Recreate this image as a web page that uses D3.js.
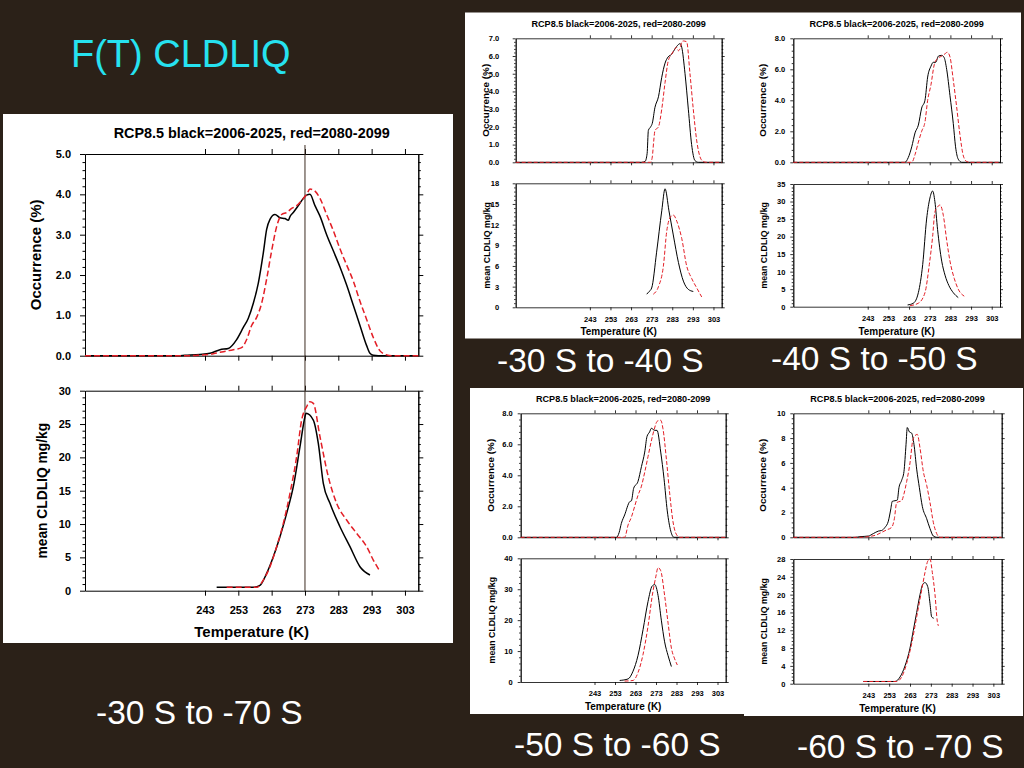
<!DOCTYPE html>
<html>
<head>
<meta charset="utf-8">
<script src="https://cdn.jsdelivr.net/npm/d3@7"></script>
<style>
  html, body { margin: 0; padding: 0; background: #2b2118; }
  svg { display: block; }
  text { font-family: "Liberation Sans", Arial, Helvetica, sans-serif; }
</style>
</head>
<body>
<svg id="slide" width="1024" height="768"></svg>
<script>
// temperature axis (K)
const xDomain = [207, 307];
const xTicks = [243, 253, 263, 273, 283, 293, 303];

// -30 S to -70 S  (big panel)
const occBigBlack = [[207,0],[235,0],[237,0.01],[241.5,0.03],[244.5,0.06],[247.5,0.15],[250,0.18],[252.5,0.4],[254.5,0.7],[256,0.93],[257.5,1.3],[259,1.8],[260.5,2.55],[261.5,3.13],[262.5,3.38],[264,3.5],[265.5,3.42],[267,3.4],[268,3.36],[268.5,3.45],[269.5,3.55],[271,3.72],[272.5,3.9],[273.5,3.98],[274.5,4.0],[276,3.72],[277.5,3.46],[279.5,3.0],[281.5,2.6],[283.5,2.2],[285.5,1.75],[287.5,1.25],[289.5,0.75],[291.5,0.25],[292.5,0.06],[293.5,0.01],[295,0],[307,0]];
const occBigRed = [[207,0],[238,0],[241,0.01],[245.5,0.05],[248.5,0.1],[251.5,0.15],[254,0.2],[255.5,0.4],[257,0.75],[258.5,0.95],[260,1.3],[261.5,1.9],[263,2.6],[264.5,3.2],[266,3.5],[267.5,3.55],[269,3.65],[270.5,3.72],[272,3.85],[273.5,4.0],[274.5,4.13],[276,4.08],[277.5,3.9],[279.5,3.5],[281.5,3.1],[283.5,2.65],[285.5,2.25],[287.5,1.85],[289.5,1.35],[291.5,0.9],[293.5,0.45],[295.5,0.12],[297.5,0.02],[299,0],[307,0]];
const meanBigBlack = [[246.5,0.5],[257.5,0.5],[259.5,0.8],[261.5,2.6],[263.5,5.1],[265.5,8.1],[267.5,11.6],[269.5,15.6],[271.5,21.6],[273,26.1],[273.3,26.6],[275.5,25.6],[277,22.1],[278.5,16.1],[280.5,13.1],[283.5,9.6],[286.5,6.6],[289.5,3.6],[292.5,2.35]];
const meanBigRed = [[249.5,0.5],[258.5,0.5],[260.5,1.6],[262.5,3.6],[264.5,6.6],[266.5,10.1],[268.5,14.6],[270.5,20.1],[272,25.6],[273.5,27.6],[274.5,28.35],[275.5,28.1],[277.5,23.1],[280,17.1],[282.5,13.1],[285.5,10.6],[288.5,8.6],[291.5,6.6],[293.5,4.6],[295.5,2.9]];
const occTicksBig = [0, 1, 2, 3, 4, 5];
const meanTicksBig = [0, 5, 10, 15, 20, 25, 30];

// -30 S to -40 S
const occABlack = [[207,0],[268,0],[269.8,0.05],[270.8,0.5],[271.4,1.8],[272.5,2.0],[273.3,2.2],[274.6,3.1],[276.3,3.7],[277.9,4.8],[279.5,5.6],[281,5.95],[282.7,6.1],[284.3,6.4],[286,6.65],[286.8,6.7],[287.6,6.5],[289.2,5.0],[290.8,3.0],[292.4,1.0],[294,0.1],[295.7,0],[307,0]];
const occARed = [[207,0],[272.5,0],[273.3,0.3],[274,1.2],[274.6,1.8],[276.3,2.0],[277.9,3.0],[279.5,4.5],[281,5.7],[282.7,6.1],[284.3,6.4],[285,6.5],[286,6.3],[287,6.5],[287.6,6.8],[288.4,6.85],[290,6.8],[291.6,5.0],[293.2,3.0],[294.9,1.2],[296.5,0.3],[298,0.05],[299.5,0],[307,0]];
const meanABlack = [[270.6,1.9],[271.5,2.2],[273,2.8],[275.4,8],[277.9,14],[279.5,17.2],[281.4,14],[283.5,10.5],[286,6.5],[288.4,3.8],[290.8,2.6],[293.2,2.3]];
const meanARed = [[273.8,1.9],[276.3,3],[278.7,6],[280.3,11],[281.9,13],[283.5,13.4],[285.2,12.5],[287.6,10],[290,6],[292.4,4.2],[294.9,2.8],[297.3,1.5]];
const occTicksA = [0, 1, 2, 3, 4, 5, 6, 7];
const meanTicksA = [0, 3, 6, 9, 12, 15, 18];

// -40 S to -50 S
const occBBlack = [[207,0],[261,0],[262.6,0.3],[264.3,1.0],[265.9,1.9],[267.5,2.4],[269.1,3.5],[270.7,4.0],[272,5.5],[273.6,6.2],[274.7,6.45],[275.9,6.45],[277.2,6.85],[278.8,6.9],[280,6.75],[281.2,6.0],[282.8,4.3],[284.4,2.5],[285.5,1.0],[286.8,0.2],[288.5,0],[307,0]];
const occBRed = [[207,0],[264.3,0],[265.9,0.5],[267.5,1.3],[269.1,2.0],[270.7,2.6],[272,4.0],[273.6,5.0],[275.2,6.3],[276.8,6.7],[278.8,6.85],[280.4,7.0],[281.5,7.1],[282.8,6.8],[284.4,5.3],[286,3.6],[287.6,1.8],[289.3,0.4],[290.9,0.05],[292.5,0],[307,0]];
const meanBBlack = [[262.3,0.5],[265.1,1.0],[267.5,4],[269.6,12],[271.5,25],[273.1,31],[274.4,33],[275.5,30],[276.8,22],[278.8,13],[280.4,9],[282.3,6],[284.4,4],[286.8,2.6]];
const meanBRed = [[263.5,0.3],[267.5,1],[270.7,4],[272.8,12],[274.4,20],[275.5,27],[276.8,28.5],[278,29],[279.6,26],[281.2,19],[282.8,13],[284.9,8],[286.8,5],[289.7,3]];
const occTicksB = [0, 2, 4, 6, 8];
const meanTicksB = [0, 5, 10, 15, 20, 25, 30, 35];

// -50 S to -60 S
const occCBlack = [[207,0],[253.7,0],[255,0.3],[256.1,0.9],[257.7,1.44],[260.2,2.3],[261,2.35],[262.1,3.16],[264.2,3.6],[265.9,4.56],[267.5,5.5],[268.6,6.5],[269.9,6.8],[270.7,7.03],[272.4,6.9],[273.5,6.9],[275.3,5.5],[276.9,3.8],[278.5,1.7],[280.2,0.4],[281.8,0],[307,0]];
const occCRed = [[207,0],[257.7,0],[259.4,0.8],[261,1.3],[262.6,2.0],[264.2,2.7],[265.9,3.3],[267.5,4.2],[269.1,5.2],[270.7,6.2],[272,6.9],[273.7,7.5],[275.3,7.55],[276.4,7.0],[278.1,5.0],[279.7,2.8],[281.3,1.0],[282.9,0.2],[284.6,0],[307,0]];
const meanCBlack = [[255.3,0.5],[259.4,1],[261.8,3.5],[264.2,8.5],[266.7,17],[269.1,26],[271.1,31],[272.4,31.5],[274,28],[275.6,20],[277.2,13],[278.9,8.5],[280.5,5]];
const meanCRed = [[257.7,0.3],[261.8,0.5],[264.2,3],[266.7,9],[269.1,18],[271.2,28],[272.9,34],[274,37],[275.3,36],[277.2,28],[278.9,19],[280.5,11],[282.1,7.5],[283.4,5.5]];
const occTicksC = [0, 2, 4, 6, 8];
const meanTicksC = [0, 10, 20, 30, 40];

// -60 S to -70 S
const occDBlack = [[207,0],[236.6,0],[239,0.05],[243,0.1],[245.4,0.3],[247.8,0.5],[249.4,0.55],[251,0.8],[252.6,1.3],[253.7,2.2],[254.5,2.9],[255.8,2.95],[256.9,3.0],[257.7,4.0],[259,4.6],[260.1,5.3],[261.1,7.5],[261.7,8.85],[262.7,8.5],[263.8,8.4],[264.9,7.5],[266.2,5.5],[267.5,4.0],[268.9,2.5],[271,1.5],[272.6,0.7],[274.2,0.1],[275.8,0],[307,0]];
const occDRed = [[207,0],[239,0],[243,0.05],[247,0.2],[249.4,0.4],[251.8,0.6],[254.2,0.8],[255.5,1.5],[256.6,2.8],[259,2.95],[260.1,3.5],[261.4,4.5],[263,6.0],[264.3,7.8],[265.4,8.2],[266.5,8.3],[267.8,7.2],[269.4,5.3],[271,4.2],[272.6,2.8],[274.2,1.2],[275.8,0.3],[277.4,0],[307,0]];
const meanDBlack = [[240.6,0.5],[255.8,0.5],[258.2,1.5],[260.6,4],[263,8],[264.6,12],[266.2,16],[267.8,20],[269.1,22.3],[270.2,22.7],[271.5,21.8],[272.6,18],[273.4,15],[274.4,14.7]];
const meanDRed = [[240.6,0.5],[256.6,0.5],[259,1.5],[261.4,4.5],[263.8,9],[266.2,15],[268.6,21],[270.2,25],[271.5,27.5],[272.6,28],[273.7,25],[275,20],[276.1,14],[276.6,13]];
const occTicksD = [0, 2, 4, 6, 8, 10];
const meanTicksD = [0, 4, 8, 12, 16, 20, 24, 28];

const regionLabels = ['-30 S to -70 S', '-30 S to -40 S', '-40 S to -50 S', '-50 S to -60 S', '-60 S to -70 S'];
const plotTitle = 'RCP8.5 black=2006-2025, red=2080-2099';

const svg = d3.select('#slide');
svg.append('rect').attr('width', 1024).attr('height', 768).attr('fill', '#2b2118');
svg.append('text').attr('x', 71).attr('y', 67).attr('fill', '#26e2f0')
  .attr('font-size', 38).text('F(T) CLDLIQ');

// minor ticks: 4 between each pair of majors
function minorOf(ticks) {
  let out = [];
  for (let i = 0; i < ticks.length - 1; i++) {
    let step = (ticks[i + 1] - ticks[i]) / 5;
    for (let k = 1; k < 5; k++) out.push(ticks[i] + k * step);
  }
  return out;
}

const big = { box: [3, 114, 450, 529], left: 85, width: 333.3, top: 154, hOcc: 201.7, gap: 35, hMean: 200,
  major: 5, minor: 2.5, ypad: 9, xpad: 11, axisW: 1, lineW: 1.5, dash: '6,3',
  fTitle: 14.4, fTick: 11, fOcc: 15, fMean: 13.8, fX: 15, titleDy: 16, occDx: 44, meanDx: 38.5, xTitleDy: 46.3,
  vline: true };
const small = { major: 3, minor: 1.6, ypad: 5, xpad: 6, axisW: 0.8, lineW: 1, dash: '4,2',
  fTitle: 9.1, fTick: 7.5, fOcc: 9.9, fMean: 8.8, fX: 10, titleDy: 11.6, occDx: 27, meanDx: 26, xTitleDy: 28, vline: false };

const panels = [
  Object.assign({}, big, { label: regionLabels[0], lx: 96, ly: 724,
    occ: [occBigBlack, occBigRed], mean: [meanBigBlack, meanBigRed], occTicks: occTicksBig, meanTicks: meanTicksBig, occFmt: '.1f' }),
  Object.assign({}, small, { box: [465, 12.5, 281, 326], left: 515.7, width: 206, top: 38.3, hOcc: 124, gap: 21, hMean: 124, ypad: 13.5,
    label: regionLabels[1], lx: 497, ly: 372,
    occ: [occABlack, occARed], mean: [meanABlack, meanARed], occTicks: occTicksA, meanTicks: meanTicksA, occFmt: '.1f' }),
  Object.assign({}, small, { box: [746, 12.5, 275, 326], left: 793.3, width: 206.7, top: 38.3, hOcc: 124, gap: 21.7, hMean: 122.7,
    label: regionLabels[2], lx: 771, ly: 370,
    occ: [occBBlack, occBRed], mean: [meanBBlack, meanBRed], occTicks: occTicksB, meanTicks: meanTicksB, occFmt: '.1f' }),
  Object.assign({}, small, { box: [470, 388, 274, 326], left: 520.7, width: 205, top: 413.3, hOcc: 124, gap: 21, hMean: 123.7,
    label: regionLabels[3], lx: 514, ly: 756,
    occ: [occCBlack, occCRed], mean: [meanCBlack, meanCRed], occTicks: occTicksC, meanTicks: meanTicksC, occFmt: '.1f' }),
  Object.assign({}, small, { box: [744, 388, 279, 328], left: 793.3, width: 208.4, top: 413.3, hOcc: 124, gap: 21.7, hMean: 124.7,
    label: regionLabels[4], lx: 797, ly: 758,
    occ: [occDBlack, occDRed], mean: [meanDBlack, meanDRed], occTicks: occTicksD, meanTicks: meanTicksD, occFmt: 'd' })
];

function styleAxis(sel, p) {
  sel.attr('font-family', null).attr('font-size', null);
  sel.selectAll('path, line').attr('stroke', '#000').attr('stroke-width', p.axisW);
  sel.selectAll('text').attr('fill', '#000').attr('font-weight', 'bold').attr('font-size', p.fTick);
}

function drawPanel(p) {
  const g = svg.append('g');
  g.append('rect').attr('x', p.box[0]).attr('y', p.box[1]).attr('width', p.box[2]).attr('height', p.box[3]).attr('fill', '#fff');

  const x = d3.scaleLinear().domain(xDomain).range([p.left, p.left + p.width]);
  const right = p.left + p.width;
  const occTop = p.top, occBot = p.top + p.hOcc;
  const meanTop = occBot + p.gap, meanBot = meanTop + p.hMean;
  const yOcc = d3.scaleLinear().domain([0, d3.max(p.occTicks)]).range([occBot, occTop]);
  const yMean = d3.scaleLinear().domain([0, d3.max(p.meanTicks)]).range([meanBot, meanTop]);

  function frame(y, top, bot, ticks, fmt, withX) {
    g.append('g').attr('transform', `translate(${p.left},0)`)
      .call(d3.axisLeft(y).tickValues(minorOf(ticks)).tickSize(p.minor).tickSizeOuter(0).tickFormat(''))
      .call(s => styleAxis(s, p));
    g.append('g').attr('transform', `translate(${p.left},0)`)
      .call(d3.axisLeft(y).tickValues(ticks).tickSize(p.major).tickSizeOuter(0).tickPadding(p.ypad).tickFormat(d3.format(fmt)))
      .call(s => styleAxis(s, p));
    g.append('g').attr('transform', `translate(${right},0)`)
      .call(d3.axisRight(y).tickValues(minorOf(ticks)).tickSize(p.minor).tickSizeOuter(0).tickFormat(''))
      .call(s => styleAxis(s, p));
    g.append('g').attr('transform', `translate(${right},0)`)
      .call(d3.axisRight(y).tickValues(ticks).tickSize(p.major).tickSizeOuter(0).tickFormat(''))
      .call(s => styleAxis(s, p));
    g.append('g').attr('transform', `translate(0,${top})`)
      .call(d3.axisTop(x).tickValues(xTicks).tickSize(p.major).tickSizeOuter(0).tickFormat(''))
      .call(s => styleAxis(s, p));
    g.append('g').attr('transform', `translate(0,${bot})`)
      .call(d3.axisBottom(x).tickValues(xTicks).tickSize(p.major).tickSizeOuter(0).tickPadding(p.xpad)
        .tickFormat(withX ? d3.format('d') : ''))
      .call(s => styleAxis(s, p));
  }
  frame(yOcc, occTop, occBot, p.occTicks, p.occFmt, false);
  frame(yMean, meanTop, meanBot, p.meanTicks, 'd', true);

  if (p.vline) {
    g.append('line').attr('x1', x(273)).attr('x2', x(273)).attr('y1', occTop - 9).attr('y2', meanBot)
      .attr('stroke', '#3d2c20').attr('stroke-width', 1);
  }

  const colors = ['#000', '#e31e26'];
  [[p.occ, yOcc], [p.mean, yMean]].forEach(([series, y]) => {
    const line = d3.line().x(d => x(d[0])).y(d => y(d[1])).curve(d3.curveMonotoneX);
    series.forEach((data, i) => {
      g.append('path').datum(data).attr('d', line).attr('fill', 'none')
        .attr('stroke', colors[i]).attr('stroke-width', p.lineW)
        .attr('stroke-dasharray', i === 1 ? p.dash : null);
    });
  });

  const cx = p.left + p.width / 2;
  g.append('text').attr('x', cx).attr('y', occTop - p.titleDy).attr('text-anchor', 'middle')
    .attr('font-weight', 'bold').attr('font-size', p.fTitle).attr('fill', '#000').text(plotTitle);
  g.append('text').attr('transform', `translate(${p.left - p.occDx},${(occTop + occBot) / 2}) rotate(-90)`)
    .attr('text-anchor', 'middle').attr('font-weight', 'bold').attr('font-size', p.fOcc).text('Occurrence (%)');
  g.append('text').attr('transform', `translate(${p.left - p.meanDx},${(meanTop + meanBot) / 2}) rotate(-90)`)
    .attr('text-anchor', 'middle').attr('font-weight', 'bold').attr('font-size', p.fMean).text('mean CLDLIQ mg/kg');
  g.append('text').attr('x', cx).attr('y', meanBot + p.xTitleDy).attr('text-anchor', 'middle')
    .attr('font-weight', 'bold').attr('font-size', p.fX).text('Temperature (K)');

  svg.append('text').attr('x', p.lx).attr('y', p.ly).attr('fill', '#fff').attr('font-size', 33.5).text(p.label);
}

panels.forEach(drawPanel);
</script>
</body>
</html>
